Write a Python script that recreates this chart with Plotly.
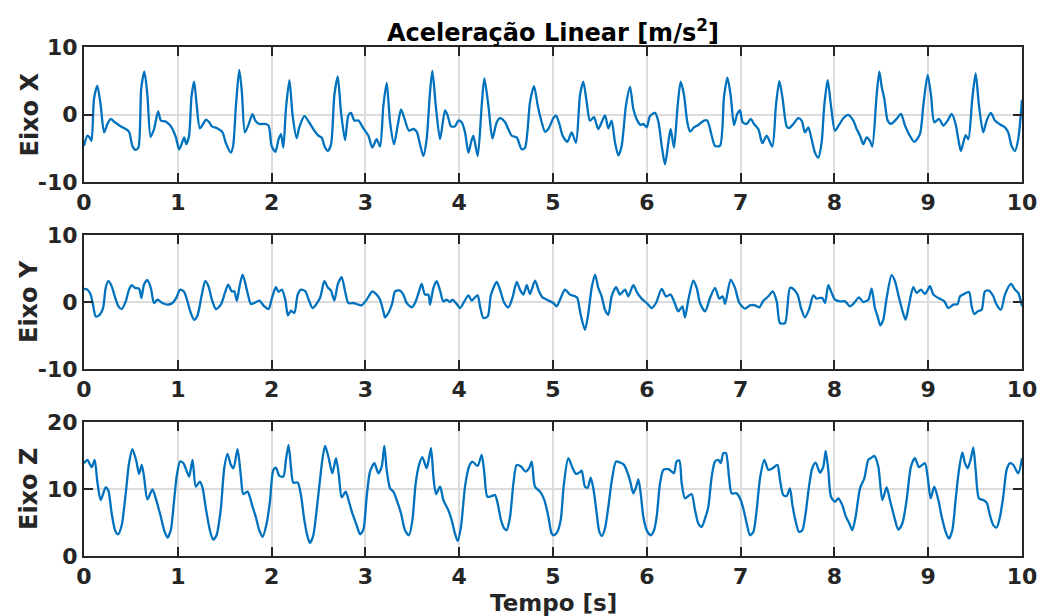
import plotly.graph_objects as go

# ---------------- data ----------------
tx = [0, 0.036, 0.06, 0.08, 0.107, 0.142, 0.178, 0.214, 0.25, 0.285, 0.32, 0.356, 0.39, 0.445, 0.48, 0.516, 0.55, 0.58,
      0.61, 0.644, 0.676, 0.71, 0.747, 0.79, 0.82, 0.87, 0.915, 0.943, 0.98, 1.014, 1.04, 1.068, 1.09, 1.12, 1.146, 1.174,
      1.2, 1.235, 1.27, 1.3, 1.335, 1.363, 1.42, 1.477, 1.51, 1.566, 1.59, 1.62, 1.655, 1.683, 1.715, 1.75, 1.797, 1.826,
      1.868, 1.93, 1.968, 2.0, 2.04, 2.075, 2.1, 2.125, 2.153, 2.19, 2.224, 2.267, 2.295, 2.35, 2.4, 2.455,
      2.5, 2.534, 2.563, 2.6, 2.634, 2.669, 2.705, 2.74, 2.783, 2.818, 2.847, 2.882, 2.925, 2.978, 3.032, 3.074, 3.12,
      3.156, 3.192, 3.227, 3.263, 3.305, 3.344, 3.38, 3.415, 3.465, 3.511, 3.547, 3.582, 3.618, 3.653, 3.689, 3.714, 3.75,
      3.796, 3.849, 3.877, 3.913, 3.955, 3.991, 4.026, 4.062, 4.098, 4.126, 4.151, 4.197, 4.24, 4.268, 4.311, 4.354, 4.4,
      4.435, 4.489, 4.56, 4.613, 4.666, 4.702, 4.755, 4.798, 4.837, 4.88, 4.915, 4.95,
      5.004, 5.032, 5.068, 5.103, 5.153, 5.199, 5.245, 5.288, 5.323, 5.359, 5.394, 5.437, 5.483, 5.554, 5.59, 5.625,
      5.661, 5.697, 5.732, 5.778, 5.821, 5.856, 5.899, 5.935, 5.963, 5.999, 6.034, 6.088, 6.123, 6.159, 6.194, 6.23,
      6.254, 6.29, 6.326, 6.361, 6.397, 6.432, 6.461, 6.503, 6.55, 6.61, 6.645, 6.692, 6.727, 6.78, 6.823, 6.859, 6.894,
      6.93, 6.965, 6.994, 7.022, 7.065, 7.107, 7.143, 7.189, 7.232, 7.278, 7.338, 7.377, 7.413, 7.448, 7.491,
      7.52, 7.562, 7.615, 7.651, 7.686, 7.722, 7.757, 7.793, 7.828, 7.864, 7.892, 7.928, 7.963, 8.006, 8.049, 8.095,
      8.148, 8.202, 8.237, 8.273, 8.308, 8.344, 8.379, 8.404, 8.45, 8.479, 8.504, 8.532, 8.568, 8.603, 8.628, 8.664,
      8.71, 8.753, 8.795, 8.852, 8.912, 8.948, 8.994, 9.03, 9.065, 9.115, 9.161, 9.207, 9.25, 9.292, 9.321, 9.349,
      9.399, 9.428, 9.47, 9.506, 9.541, 9.587, 9.623, 9.669, 9.711, 9.775, 9.818, 9.853, 9.889, 9.925, 9.96, 10.0]
ax = [-4.65, -3.15, -3.4, -3.9, 2.35, 4.25, 1.35, -2.65, -1.4, -0.65, -1.05, -1.4, -1.75, -2.15, -2.55, -4.65, -5.25, -4.9,
      3.85, 6.35, 2.85, -3.3, -2.15, 0.45, -0.9, -1.05, -1.55, -2.15, -3.4, -5.15, -4.4, -3.4, -4.4, -3.15, 2.6, 4.85,
      1.6, -2.05, -1.4, -0.75, -1.15, -1.75, -2.05, -2.65, -4.15, -5.65, -4.65, 1.35, 6.6, 3.35, -2.65, -1.65, 0.05, -0.9,
      -1.4, -1.4, -1.65, -4.65, -5.55, -3.65, -2.9, -4.9, 0.85, 5.1, -0.15, -3.5, -1.9, -0.25, -1.15, -2.4,
      -3.15, -3.4, -4.65, -5.4, -4.4, 2.85, 5.6, 0.35, -3.8, -0.15, 0.25, -0.9, -0.9, -2.05, -3.15, -4.9, -3.65,
      -4.75, 1.35, 4.7, -1.15, -4.4, -1.65, 0.75, -0.55, -2.4, -2.15, -2.55, -4.4, -6.15, -3.65, 3.35, 6.45, 1.35,
      -3.65, 0.6, -0.15, -1.75, -1.75, -0.9, -1.15, -2.65, -5.65, -4.15, -3.15, -6.15, 1.35, 5.35, 1.35, -3.55, -1.15,
      -0.55, -1.15, -3.15, -3.4, -5.15, -4.9, 1.85, 4.2, 1.35, -1.15, -2.55, -2.15,
      -0.55, -0.15, -1.4, -3.15, -4.05, -2.65, -4.15, 2.85, 4.85, 1.85, -0.9, -0.4, -2.15, -0.15, -2.05, -0.9,
      -4.15, -6.05, -4.65, 1.35, 4.1, 0.85, -0.9, -1.55, -1.4, -1.9, -0.25, 0.25, -1.05, -4.65, -7.4, -4.15,
      -2.15, -4.9, 0.85, 4.85, 2.85, -1.15, -2.55, -1.9, -1.55, -0.9, -0.9, -3.15, -4.65, -4.65, 2.6, 5.45, 2.85,
      -1.55, 0.1, 0.6, -1.15, -1.4, -0.65, -1.4, -2.15, -4.25, -3.15, -4.75, 1.35, 4.95, 2.35, -1.75,
      -2.0, -1.4, -0.55, -0.9, -2.65, -1.9, -3.65, -5.65, -6.4, -4.15, 1.35, 5.1, 1.35, -2.4, -1.55, -0.55,
      -0.05, -0.9, -2.15, -3.15, -4.4, -3.4, -3.9, -4.75, 2.85, 6.35, 4.1, 2.35, -0.9, -1.4, -1.15, -0.65,
      0.1, -1.65, -2.9, -4.05, -2.9, 1.35, 5.85, 2.85, -1.15, -0.65, -1.65, -0.9, 0.1, -1.4, -3.65, -5.4,
      -3.05, -3.65, 2.35, 6.1, 1.35, -2.65, -0.9, 0.25, -0.9, -1.55, -1.9, -2.65, -4.65, -5.4, -3.65, 2.2]

ty = [0, 0.036, 0.071, 0.096, 0.125, 0.16, 0.203, 0.231, 0.26, 0.295, 0.331, 0.367, 0.402, 0.445, 0.48, 0.509, 0.544,
      0.587, 0.612, 0.64, 0.676, 0.712, 0.747, 0.783, 0.836, 0.89, 0.943, 0.986, 1.025, 1.068, 1.103, 1.139, 1.174,
      1.21, 1.256, 1.292, 1.327, 1.363, 1.406, 1.459, 1.502, 1.537, 1.573, 1.601, 1.63, 1.655, 1.69, 1.719, 1.744,
      1.779, 1.815, 1.868, 1.922, 1.968, 2.004, 2.046, 2.075, 2.11, 2.146, 2.174, 2.206, 2.242, 2.278, 2.313, 2.36,
      2.395, 2.438, 2.516, 2.562, 2.598, 2.633, 2.669, 2.705, 2.747, 2.783, 2.818, 2.872, 2.907, 2.96, 3.014, 3.074,
      3.12, 3.156, 3.192, 3.209, 3.245, 3.287, 3.316, 3.369, 3.405, 3.44, 3.494, 3.529, 3.572, 3.6, 3.636, 3.672,
      3.689, 3.725, 3.76, 3.796, 3.831, 3.867, 3.902, 3.927, 3.973, 4.009, 4.055, 4.098, 4.133, 4.162, 4.197, 4.222,
      4.258, 4.304, 4.339, 4.4, 4.435, 4.481, 4.524, 4.567, 4.613, 4.648, 4.684, 4.72, 4.755, 4.808, 4.851, 4.887,
      4.933, 5.004, 5.039, 5.075, 5.128, 5.181, 5.235, 5.259, 5.295, 5.341, 5.377, 5.412, 5.448, 5.483, 5.519,
      5.554, 5.59, 5.625, 5.672, 5.714, 5.768, 5.803, 5.856, 5.899, 5.945, 5.999, 6.052, 6.098, 6.159, 6.205,
      6.254, 6.301, 6.336, 6.379, 6.407, 6.443, 6.496, 6.532, 6.567, 6.621, 6.674, 6.727, 6.773, 6.809, 6.834,
      6.894, 6.94, 6.987, 7.047, 7.1, 7.154, 7.2, 7.243, 7.296, 7.342, 7.385, 7.42, 7.473, 7.526, 7.562, 7.608,
      7.644, 7.686, 7.729, 7.775, 7.811, 7.846, 7.871, 7.9, 7.935, 7.971, 8.006, 8.06, 8.113, 8.166, 8.219, 8.262,
      8.308, 8.362, 8.397, 8.432, 8.461, 8.489, 8.521, 8.557, 8.61, 8.646, 8.681, 8.717, 8.759, 8.795, 8.841,
      8.877, 8.923, 8.966, 9.019, 9.055, 9.108, 9.172, 9.214, 9.268, 9.314, 9.339, 9.385, 9.435, 9.463, 9.492,
      9.527, 9.57, 9.605, 9.648, 9.694, 9.729, 9.776, 9.818, 9.882, 9.925, 9.96, 10.0]
ay = [1.95, 1.85, 1.1, -0.4, -2.15, -2.0, -0.9, 2.1, 3.1, 2.35, 0.7, -0.65, -1.05, 0.1, 1.85, 2.5, 2.1,
      2.0, 0.6, 2.6, 3.25, 2.1, -0.15, 0.35, -0.15, -0.4, -0.15, 0.7, 1.85, 1.5, 0.1, -1.65, -2.65,
      -2.0, 1.1, 3.1, 2.35, 0.35, -1.05, -0.4, 1.35, 2.6, 1.6, 1.6, 0.2, 2.1, 4.1, 2.85, 1.35,
      -0.3, -0.15, 0.2, -0.65, -1.05, 0.6, 2.2, 1.5, 1.85, 0.35, -2.0, -1.3, -1.65, 1.1, 1.85, 1.6,
      0.35, -0.9, 0.6, 3.1, 2.2, 1.7, 0.2, 2.6, 3.7, 1.6, -0.15, -0.15, -0.3, -0.5, 0.35, 1.6,
      1.1, 0.35, -1.4, -2.3, -1.65, -0.15, 1.6, 1.7, 1.1, -0.15, -0.8, -0.15, 1.6, 2.7, 1.1, 1.1,
      -0.4, 2.1, 3.1, 1.7, 0.1, 0.35, 0.0, 0.35, -0.3, -0.9, 0.1, 1.0, 0.2, 0.6, 1.0, -0.65,
      -2.4, -2.15, 1.1, 3.0, 1.85, -0.15, -0.8, 0.6, 3.0, 1.85, 1.1, 2.5, 1.2, 3.2, 1.6, 0.7,
      0.35, -0.15, -0.65, 0.35, 1.85, 1.1, 0.85, 0.6, -1.9, -4.15, -1.65, 2.1, 4.1, 2.1, 0.85,
      -1.15, -1.9, 0.85, 2.2, 1.1, 1.85, 0.85, 2.5, 1.35, 0.5, -0.15, -0.9, -0.15, 1.95, 0.85,
      1.1, -0.3, -1.4, -0.65, -2.3, 0.35, 3.2, 2.1, -0.15, -1.4, 0.6, 2.1, 0.5, 0.85, -0.3,
      3.35, 2.1, -0.15, -1.0, -0.5, -0.5, -0.8, 0.2, 0.85, 1.6, 0.1, -3.15, -3.15, 2.1, 1.95, 1.1,
      -0.9, -2.3, -1.15, 1.0, 0.5, 0.6, 0.6, -0.15, 2.5, 1.35, 0.35, 0.1, 0.1, -0.65, 0.0, 0.7,
      0.0, 0.35, 2.0, -0.9, -2.15, -3.5, -2.65, 0.6, 4.0, 3.1, 1.1, -0.9, -2.65, -0.4, 2.2,
      1.35, 1.85, 1.2, 2.35, 1.1, 0.6, 0.1, -0.9, -0.4, -0.3, 0.85, 1.2, 1.5, -0.65, -1.8,
      -1.4, -1.15, 1.6, 1.7, 0.85, -0.4, -1.15, 1.1, 2.7, 1.85, 1.35, -0.65]

tz = [0, 0.036, 0.082, 0.114, 0.142, 0.178, 0.231, 0.26, 0.295, 0.331, 0.363, 0.402, 0.445, 0.48, 0.516, 0.559,
      0.587, 0.616, 0.64, 0.676, 0.73, 0.765, 0.819, 0.854, 0.89, 0.925, 0.961, 0.99, 1.025, 1.06, 1.093, 1.121,
      1.157, 1.192, 1.235, 1.263, 1.299, 1.342, 1.377, 1.413, 1.459, 1.495, 1.53, 1.566, 1.594, 1.637, 1.673,
      1.698, 1.744, 1.797, 1.833, 1.868, 1.904, 1.947, 1.982, 2.018, 2.046, 2.082, 2.125, 2.153, 2.181, 2.206,
      2.231, 2.278, 2.313, 2.349, 2.384, 2.409, 2.445, 2.48, 2.516, 2.541, 2.57, 2.605, 2.648, 2.687, 2.719,
      2.747, 2.79, 2.825, 2.861, 2.907, 2.943, 2.978, 3.014, 3.049, 3.096, 3.138, 3.174, 3.202, 3.227, 3.263,
      3.298, 3.334, 3.38, 3.422, 3.465, 3.501, 3.536, 3.572, 3.607, 3.653, 3.678, 3.7, 3.725, 3.753, 3.796,
      3.831, 3.884, 3.92, 3.955, 3.984, 4.019, 4.062, 4.105, 4.14, 4.197, 4.24, 4.268, 4.3, 4.346, 4.382, 4.41,
      4.446, 4.481, 4.506, 4.542, 4.578, 4.613, 4.659, 4.709, 4.745, 4.773, 4.808, 4.862, 4.908, 4.951, 4.986,
      5.011, 5.046, 5.082, 5.117, 5.163, 5.21, 5.245, 5.281, 5.306, 5.341, 5.37, 5.402, 5.43, 5.466, 5.494,
      5.522, 5.554, 5.59, 5.625, 5.672, 5.714, 5.757, 5.803, 5.828, 5.856, 5.885, 5.91, 5.935, 5.963, 5.999,
      6.041, 6.077, 6.105, 6.141, 6.177, 6.23, 6.265, 6.29, 6.318, 6.347, 6.372, 6.407, 6.443, 6.478, 6.514,
      6.549, 6.585, 6.621, 6.656, 6.692, 6.727, 6.763, 6.788, 6.816, 6.844, 6.876, 6.905, 6.958, 6.994, 7.029,
      7.065, 7.1, 7.136, 7.171, 7.207, 7.253, 7.296, 7.342, 7.392, 7.42, 7.455, 7.491, 7.526, 7.551, 7.58,
      7.622, 7.658, 7.693, 7.729, 7.764, 7.8, 7.846, 7.882, 7.907, 7.935, 7.963, 8.006, 8.042, 8.084, 8.12,
      8.159, 8.191, 8.226, 8.273, 8.319, 8.362, 8.404, 8.425, 8.468, 8.511, 8.557, 8.592, 8.638, 8.681, 8.724,
      8.77, 8.816, 8.859, 8.902, 8.937, 8.966, 8.994, 9.026, 9.065, 9.108, 9.144, 9.186, 9.221, 9.257, 9.292,
      9.328, 9.364, 9.392, 9.42, 9.456, 9.481, 9.506, 9.541, 9.587, 9.623, 9.658, 9.694, 9.729, 9.765, 9.8,
      9.836, 9.872, 9.907, 9.96, 10.0]
az = [13.85, 14.35, 13.25, 14.35, 11.1, 8.35, 10.25, 9.75, 6.35, 3.85, 3.25, 4.6, 9.35, 13.85, 15.95, 14.1,
      12.25, 13.6, 11.85, 8.45, 9.95, 8.6, 5.85, 3.85, 2.75, 3.85, 8.35, 12.1, 14.1, 13.85, 12.75, 11.85,
      14.35, 10.35, 11.1, 10.25, 7.1, 3.85, 2.45, 3.1, 7.1, 13.1, 15.25, 13.6, 13.1, 15.95, 11.85,
      9.25, 9.6, 7.35, 5.75, 3.85, 2.85, 4.85, 8.1, 12.85, 13.2, 11.95, 11.85, 14.35, 16.6, 13.35,
      10.95, 10.95, 9.1, 5.35, 2.85, 1.95, 3.1, 6.85, 11.35, 14.35, 16.45, 14.85, 12.35, 14.6, 11.85,
      8.75, 9.6, 8.1, 6.35, 4.6, 3.25, 3.95, 8.85, 12.6, 13.85, 12.35, 13.35, 16.45, 12.85, 10.1,
      9.6, 8.35, 6.35, 3.85, 3.1, 5.35, 10.85, 13.6, 14.75, 13.1, 14.6, 16.1, 11.85, 9.25, 10.35,
      8.35, 6.85, 5.35, 3.35, 2.25, 4.35, 10.35, 13.35, 14.1, 13.45, 15.1, 12.35, 8.85, 8.95, 9.1, 7.85,
      5.35, 4.1, 3.85, 5.85, 10.85, 13.6, 13.35, 12.6, 13.1, 14.1, 10.35, 9.6, 8.35, 5.85, 3.35,
      3.1, 3.6, 5.35, 10.85, 14.6, 13.1, 12.25, 12.45, 12.75, 10.35, 10.2, 11.7, 10.1, 6.35, 3.6,
      3.0, 4.1, 7.35, 11.1, 14.1, 13.95, 13.6, 12.1, 10.85, 9.35, 10.25, 11.45, 9.35, 5.85, 3.85,
      3.1, 3.85, 5.85, 10.85, 12.85, 12.95, 12.6, 12.35, 14.1, 14.25, 10.85, 8.6, 8.95, 9.25, 6.85,
      4.85, 4.35, 5.6, 7.35, 11.85, 14.1, 14.35, 13.85, 15.35, 15.35, 11.85, 9.35, 9.35, 8.6, 7.1,
      4.85, 3.1, 3.6, 6.85, 11.6, 14.35, 12.85, 13.1, 13.6, 11.35, 9.1, 8.95, 10.1, 7.75, 5.6,
      3.6, 3.85, 6.35, 10.35, 13.1, 13.95, 12.45, 13.35, 15.7, 12.85, 8.85, 8.1, 8.6, 7.6, 5.95,
      4.85, 3.85, 5.85, 10.1, 11.6, 14.35, 14.75, 14.95, 13.35, 8.35, 10.25, 8.35, 5.85, 3.95, 4.85,
      8.35, 13.35, 14.6, 13.25, 13.6, 13.85, 11.85, 8.6, 10.35, 8.35, 5.85, 3.6, 2.6, 3.85, 8.35,
      12.85, 15.45, 13.85, 13.1, 14.6, 16.2, 12.85, 8.6, 8.35, 7.95, 6.1, 4.6, 4.25, 5.85, 8.85,
      12.85, 13.85, 13.6, 12.35, 14.6]

x_ticks = list(range(0, 11))
y_labels = ["Eixo X", "Eixo Y", "Eixo Z"]
y_ranges = [[-10, 10], [-10, 10], [0, 20]]
y_ticks = [[-10, 0, 10], [-10, 0, 10], [0, 10, 20]]
y_tick_text = [["-10", "0", "10"], ["-10", "0", "10"], ["0", "10", "20"]]
title_text = "Aceleração Linear [m/s<sup>2</sup>]"
x_title = "Tempo [s]"

# ---------------- figure ----------------
W, H = 1040, 616
ML, MR, MT, MB = 84, 18, 47, 60
ph = H - MT - MB
def dom(top_px, bot_px):
    return [(H - MB - bot_px) / ph, (H - MB - top_px) / ph]

domains = [dom(47, 182), dom(235, 369), dom(422, 556)]
series = [(tx, ax), (ty, ay), (tz, az)]

FONT = "DejaVu Sans"
LINE = "#262626"
GRID = "#dcdcdc"

fig = go.Figure()
for i, (t, v) in enumerate(series):
    n = "" if i == 0 else str(i + 1)
    fig.add_trace(go.Scatter(x=t, y=v, mode="lines", xaxis="x" + n, yaxis="y" + n,
                             line=dict(color="#0072BD", width=2.3, shape="spline", smoothing=0.7),
                             showlegend=False))
    common = dict(showline=True, linecolor=LINE, linewidth=2, mirror="ticks",
                  ticks="inside", ticklen=9, tickwidth=2, tickcolor=LINE,
                  showgrid=True, gridcolor=GRID, gridwidth=2, zeroline=False, automargin=False,
                  tickfont=dict(family=FONT, size=22, color=LINE, weight="bold"))
    fig.layout["xaxis" + n] = dict(domain=[0, 1], range=[0, 10], tickvals=x_ticks,
                                   anchor="y" + n, **common)
    fig.layout["yaxis" + n] = dict(domain=domains[i], range=y_ranges[i], tickvals=y_ticks[i],
                                   ticktext=y_tick_text[i], anchor="x" + n, **common)

annotations = []
for i, lab in enumerate(y_labels):
    d = domains[i]
    annotations.append(dict(text=lab, xref="paper", yref="paper", x=0, y=(d[0] + d[1]) / 2,
                            xanchor="center", yanchor="middle", xshift=-55, textangle=-90,
                            showarrow=False, font=dict(family=FONT, size=24, color=LINE, weight="bold")))
annotations.append(dict(text=x_title, xref="paper", yref="paper", x=0.5, y=0, yanchor="middle",
                        yshift=-47, showarrow=False,
                        font=dict(family=FONT, size=23, color=LINE, weight="bold")))
annotations.append(dict(text=title_text, xref="paper", yref="paper", x=0.5, y=1, yanchor="middle",
                        yshift=16, showarrow=False,
                        font=dict(family=FONT, size=24, color="black", weight="bold")))

fig.update_layout(width=W, height=H, margin=dict(l=ML, r=MR, t=MT, b=MB),
                  paper_bgcolor="white", plot_bgcolor="white", annotations=annotations)

fig.write_html("out.html")
